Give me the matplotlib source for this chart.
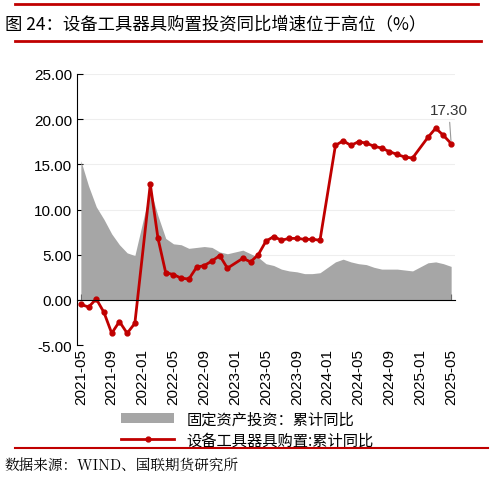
import matplotlib
matplotlib.use("Agg")
import matplotlib.pyplot as plt
from matplotlib.lines import Line2D
import numpy as np

plt.rcParams['font.family'] = ['Noto Sans CJK SC', 'DejaVu Sans']

months = ["2021-05","2021-06","2021-07","2021-08","2021-09","2021-10","2021-11","2021-12",
          "2022-02","2022-03","2022-04","2022-05","2022-06","2022-07","2022-08","2022-09","2022-10","2022-11","2022-12",
          "2023-02","2023-03","2023-04","2023-05","2023-06","2023-07","2023-08","2023-09","2023-10","2023-11","2023-12",
          "2024-02","2024-03","2024-04","2024-05","2024-06","2024-07","2024-08","2024-09","2024-10","2024-11","2024-12",
          "2025-02","2025-03","2025-04","2025-05"]
fai = [15.4,12.6,10.3,8.9,7.3,6.1,5.2,4.9,
       12.2,9.3,6.8,6.2,6.1,5.7,5.8,5.9,5.8,5.3,5.1,
       5.5,5.1,4.7,4.0,3.8,3.4,3.2,3.1,2.9,2.9,3.0,
       4.2,4.5,4.2,4.0,3.9,3.6,3.4,3.4,3.4,3.3,3.2,
       4.1,4.2,4.0,3.7]
equip = [-0.5,-0.8,0.1,-1.4,-3.7,-2.4,-3.7,-2.6,
         12.8,6.8,3.0,2.8,2.4,2.3,3.6,3.8,4.3,4.9,3.5,
         4.6,4.2,5.0,6.5,7.0,6.6,6.8,6.8,6.7,6.7,6.6,
         17.1,17.6,17.1,17.5,17.35,17.0,16.8,16.4,16.1,15.8,15.7,
         18.0,19.0,18.2,17.3]
tick_labels = ["2021-05","2021-09","2022-01","2022-05","2022-09","2023-01","2023-05",
               "2023-09","2024-01","2024-05","2024-09","2025-01","2025-05"]

def idx(m):
    y, mo = int(m[:4]), int(m[5:])
    return (y - 2021) * 12 + mo - 5

x = np.array([idx(m) for m in months])
tx = [idx(m) for m in tick_labels]

fig = plt.figure(figsize=(4.93, 4.81), dpi=100)
red = '#C00000'
fig.add_artist(Line2D([0.03, 0.97], [1-5/481]*2, color=red, lw=2))
fig.add_artist(Line2D([0.03, 0.975], [1-42/481]*2, color=red, lw=2))
fig.add_artist(Line2D([0.03, 0.99], [1-449/481]*2, color=red, lw=1.5))
fig.text(0.01, 1-24/481, "图 24：设备工具器具购置投资同比增速位于高位（%）", fontsize=12.5, va='center', ha='left')
fig.text(0.01, 1-466/481, "数据来源：WIND、国联期货研究所", fontsize=10.5, va='center', ha='left',
         family=['Noto Serif CJK SC', 'Noto Sans CJK SC', 'DejaVu Sans'])

ax = fig.add_axes([77/493, 1-346/481, (455-77)/493, (346-75)/481])
ax.fill_between(x, fai, 0, color='#A6A6A6', lw=0, label='固定资产投资：累计同比')
ax.plot(x, equip, color=red, lw=2, marker='o', ms=3.5, label='设备工具器具购置:累计同比')
ax.set_ylim(-5, 25)
ax.set_xlim(-0.5, 48.5)
ax.set_yticks(np.arange(-5, 26, 5))
ax.set_yticklabels([f"{v:.2f}" for v in np.arange(-5, 26, 5)], fontsize=11, family='Liberation Sans')
ax.set_xticks(tx)
ax.set_xticklabels([])
for t, lab in zip(tx, tick_labels):
    ax.text(t, -0.01, lab, transform=ax.get_xaxis_transform(), rotation=90,
            ha='center', va='top', fontsize=11, family='Liberation Sans')
ax.grid(axis='y', color='#EEEEEE', lw=0.8)
ax.set_axisbelow(True)
for s in ['top', 'right']:
    ax.spines[s].set_visible(False)
ax.spines['bottom'].set_position(('data', 0))
ax.tick_params(axis='x', direction='in', length=4)
ax.tick_params(axis='y', direction='in', length=4)
ax.annotate("17.30", xy=(x[-1], equip[-1]), xytext=(x[-1] - 0.3, 20.6), fontsize=11,
            family='Liberation Sans', ha='center', color='#333333',
            arrowprops=dict(arrowstyle='-', color='#999999', lw=0.8))
ax.legend(loc='upper left', bbox_to_anchor=(0.08, -0.19), frameon=False, fontsize=11,
          handlelength=3.5, labelspacing=0.3)
fig.savefig("out.png", dpi=100)
